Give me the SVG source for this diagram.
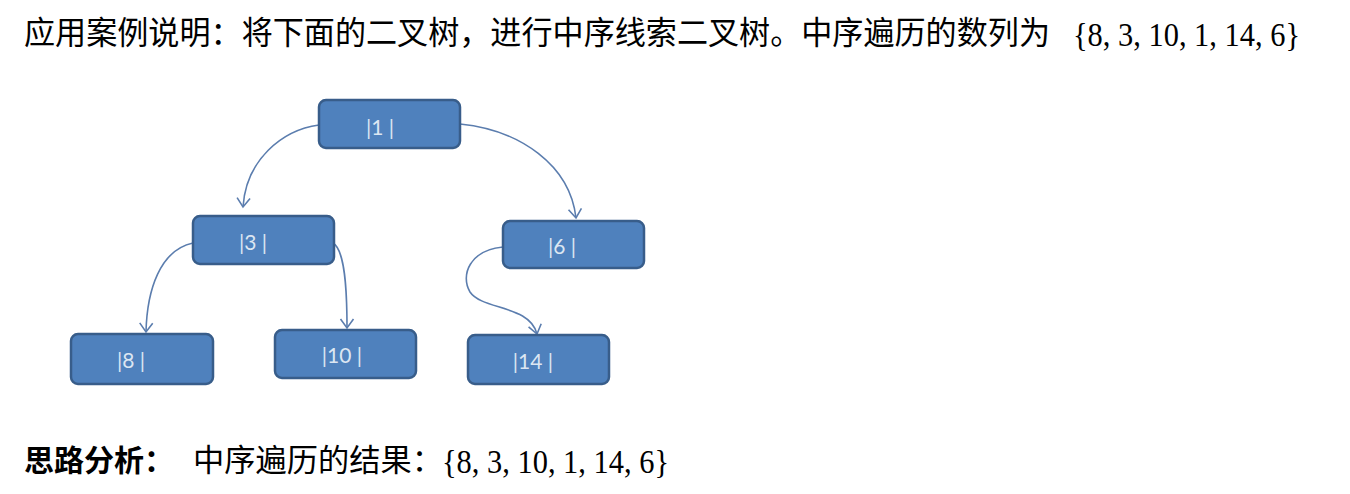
<svg xmlns="http://www.w3.org/2000/svg" width="1350" height="494" viewBox="0 0 1350 494">
<style>
.t{font-family:"Liberation Serif","Noto Sans CJK SC",serif;fill:#000}
.cjk{font-family:"Noto Sans CJK SC","Liberation Serif",sans-serif;fill:#000}
.box{fill:#4F81BD;stroke:#385D8A;stroke-width:2.5}
.lbl{font-family:Lato,"Liberation Sans",sans-serif;font-size:21px;fill:#DCE6F2;text-anchor:middle}
.edge{fill:none;stroke:#5B7DAE;stroke-width:1.6}
</style>
<defs>
<marker id="arr" markerUnits="userSpaceOnUse" markerWidth="16" markerHeight="16" refX="11" refY="8" orient="auto" viewBox="0 0 16 16">
<path d="M2,1.5 L11,8 L2,14.5" fill="none" stroke="#5B7DAE" stroke-width="1.6"/>
</marker>
</defs>
<rect width="1350" height="494" fill="#fff"/>
<text class="cjk" x="24" y="44" font-size="32" textLength="1026" lengthAdjust="spacingAndGlyphs">应用案例说明：将下面的二叉树，进行中序线索二叉树。中序遍历的数列为</text>
<text class="t" x="1073" y="46" font-size="34" textLength="227" lengthAdjust="spacingAndGlyphs">{8, 3, 10, 1, 14, 6}</text>
<g id="edges">
<path class="edge" d="M319,125 C282,130 246,160 243,207" marker-end="url(#arr)"/>
<path class="edge" d="M460,124 C520,130 570,165 576,218" marker-end="url(#arr)"/>
<path class="edge" d="M193,243 C160,250 147,290 146,332" marker-end="url(#arr)"/>
<path class="edge" d="M333,243 C345,250 347,290 347,328" marker-end="url(#arr)"/>
<path class="edge" d="M503,247 C470,250 460,275 470,292 C482,310 530,305 537,334" marker-end="url(#arr)"/>
</g>
<g id="n1"><rect class="box" x="319" y="100" width="141" height="48" rx="7"/><text class="lbl" x="380" y="135">|1 |</text></g>
<g id="n3"><rect class="box" x="193" y="216" width="141" height="48" rx="7"/><text class="lbl" x="253" y="250">|3 |</text></g>
<g id="n6"><rect class="box" x="503" y="221" width="141" height="47" rx="7"/><text class="lbl" x="562" y="254">|6 |</text></g>
<g id="n8"><rect class="box" x="71" y="334" width="142" height="50" rx="7"/><text class="lbl" x="131" y="368">|8 |</text></g>
<g id="n10"><rect class="box" x="275" y="330" width="141" height="48" rx="7"/><text class="lbl" x="342" y="363">|10 |</text></g>
<g id="n14"><rect class="box" x="468" y="335" width="141" height="49" rx="7"/><text class="lbl" x="533" y="369">|14 |</text></g>
<text class="cjk" x="24" y="471" font-size="30" font-weight="bold">思路分析：</text>
<text class="cjk" x="193" y="471" font-size="31" textLength="250" lengthAdjust="spacingAndGlyphs">中序遍历的结果：</text>
<text class="t" x="442" y="473" font-size="34" textLength="227" lengthAdjust="spacingAndGlyphs">{8, 3, 10, 1, 14, 6}</text>
</svg>
